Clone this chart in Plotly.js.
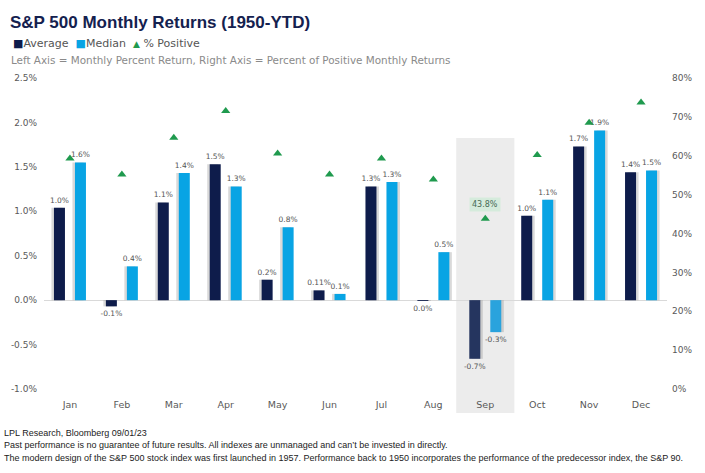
<!DOCTYPE html>
<html>
<head>
<meta charset="utf-8">
<script src="https://cdn.plot.ly/plotly-3.0.1.min.js"></script>
<style>
html,body{margin:0;padding:0;background:#fff;}
#chart{width:705px;height:473px;}
</style>
</head>
<body>
<div id="chart"></div>
<script>
// ---- Data ----
const months = ["Jan","Feb","Mar","Apr","May","Jun","Jul","Aug","Sep","Oct","Nov","Dec"];
const averageReturn = [1.04, -0.07, 1.10, 1.53, 0.23, 0.11, 1.28, -0.01, -0.66, 0.95, 1.73, 1.44];
const averageLabels = ["1.0%","-0.1%","1.1%","1.5%","0.2%","0.11%","1.3%","0.0%","-0.7%","1.0%","1.7%","1.4%"];
const medianReturn = [1.55, 0.38, 1.43, 1.28, 0.82, 0.07, 1.33, 0.54, -0.36, 1.13, 1.91, 1.46];
const medianLabels = ["1.6%","0.4%","1.4%","1.3%","0.8%","0.1%","1.3%","0.5%","-0.3%","1.1%","1.9%","1.5%"];
const pctPositive = [59.3, 55.2, 64.6, 71.5, 60.6, 55.2, 59.3, 53.9, 43.8, 60.2, 68.5, 73.7];
const highlightMonth = "Sep";
const highlightLabel = "43.8%";

const leftTicks = [-1.0, -0.5, 0.0, 0.5, 1.0, 1.5, 2.0, 2.5];
const rightTicks = [0, 10, 20, 30, 40, 50, 60, 70, 80];

const titleText = "S&P 500 Monthly Returns (1950-YTD)";
const subtitleText = "Left Axis = Monthly Percent Return, Right Axis = Percent of Positive Monthly Returns";
const footerLines = [
  "LPL Research, Bloomberg 09/01/23",
  "Past performance is no guarantee of future results. All indexes are unmanaged and can\u2019t be invested in directly.",
  "The modern design of the S&P 500 stock index was first launched in 1957. Performance back to 1950 incorporates the performance of the predecessor index, the S&P 90."
];

// ---- Styling / layout ----
const W = 705, H = 473;
const M = {l: 44, r: 38, t: 78, b: 84};
const PW = W - M.l - M.r, PH = H - M.t - M.b;
const catPx = PW / months.length;
const NAVY = "#0e1c4b", BLUE = "#08a4e4", GREEN = "#1f9a4e";
const NAVY_HL = "#25355f", BLUE_HL = "#2aa3dd";
const FONT = "DejaVu Sans, Verdana, sans-serif";
const hl = months.indexOf(highlightMonth);

const barW = 11 / catPx;
const avgOff = -16 / catPx;
const medOff = 5 / catPx;
const shadowShift = months.map((m, i) => (i < months.length / 2 ? -2.5 : 2.5) / catPx);

const px2x = px => (px - M.l) / PW;
const px2y = py => (H - M.b - py) / PH;

const labelFont = {family: FONT, size: 7.5, color: "#555555"};
const SHADOW = "rgba(120,120,120,0.28)";

const traces = [
  {type: "bar", x: months, y: averageReturn, width: barW,
   offset: shadowShift.map(s => avgOff + s),
   marker: {color: SHADOW}, hoverinfo: "skip", showlegend: false},
  {type: "bar", x: months, y: medianReturn, width: barW,
   offset: shadowShift.map(s => medOff + s),
   marker: {color: SHADOW}, hoverinfo: "skip", showlegend: false},
  {type: "bar", name: "Average", x: months, y: averageReturn, width: barW, offset: avgOff,
   marker: {color: months.map((m, i) => i === hl ? NAVY_HL : NAVY)},
   text: averageLabels, textposition: "outside", textfont: labelFont, outsidetextfont: labelFont,
   constraintext: "none", cliponaxis: false, showlegend: false},
  {type: "bar", name: "Median", x: months, y: medianReturn, width: barW, offset: medOff,
   marker: {color: months.map((m, i) => i === hl ? BLUE_HL : BLUE)},
   text: medianLabels, textposition: "outside", textfont: labelFont, outsidetextfont: labelFont,
   constraintext: "none", cliponaxis: false, showlegend: false},
  {type: "scatter", mode: "markers", name: "% Positive", x: months, y: pctPositive, yaxis: "y2",
   marker: {symbol: "triangle-up", size: 8, color: GREEN}, cliponaxis: false, showlegend: false}
];

const annotations = [
  {xref: "paper", yref: "paper", x: px2x(11), y: px2y(44), xanchor: "left", yanchor: "middle",
   showarrow: false, font: {family: FONT, size: 11, color: "#555555"},
   text: '<span style="color:' + NAVY + '">\u25A0</span>Average  <span style="color:' + BLUE +
         '">\u25A0</span>Median  <span style="color:' + GREEN + ';font-size:9px">\u25B2</span> % Positive'},
  {xref: "paper", yref: "paper", x: px2x(9), y: px2y(60), xanchor: "left", yanchor: "middle",
   showarrow: false, font: {family: FONT, size: 10.4, color: "#8a8a8a"}, text: subtitleText},
  {xref: "x", yref: "y2", x: highlightMonth, y: pctPositive[hl], yshift: 14, showarrow: false,
   text: highlightLabel, bgcolor: "#d5ebdc", borderpad: 2,
   font: {family: FONT, size: 8, color: "#476a55"}}
];
footerLines.forEach((t, i) => {
  annotations.push({xref: "paper", yref: "paper", x: px2x(2), y: px2y(433 + i * 12.4),
    xanchor: "left", yanchor: "middle", showarrow: false, text: t,
    font: {family: "Liberation Sans, Arial, sans-serif", size: 9, color: "#222222"}});
});

const layout = {
  width: W, height: H,
  margin: M,
  paper_bgcolor: "#ffffff", plot_bgcolor: "rgba(0,0,0,0)",
  barmode: "overlay",
  showlegend: false,
  title: {text: "<b>" + titleText.replace("&", "&amp;") + "</b>", xref: "container", yref: "container",
          x: 10 / W, xanchor: "left", y: 1 - 22 / H, yanchor: "middle",
          font: {family: "Liberation Sans, Arial, sans-serif", size: 17, color: "#14214f"}},
  xaxis: {type: "category", range: [-0.5, months.length - 0.5], showgrid: false, zeroline: false,
          showline: false, ticks: "", tickfont: {family: FONT, size: 9.5, color: "#595959"},
          ticklabelstandoff: 8, fixedrange: true},
  yaxis: {range: [leftTicks[0], leftTicks[leftTicks.length - 1]], tickvals: leftTicks,
          ticktext: leftTicks.map(v => v.toFixed(1) + "%"), showgrid: false,
          zeroline: true, zerolinecolor: "#d9d9d9", zerolinewidth: 1, showline: false, ticks: "",
          tickfont: {family: FONT, size: 9, color: "#595959"}, ticklabelstandoff: 6, fixedrange: true},
  yaxis2: {overlaying: "y", side: "right", range: [rightTicks[0], rightTicks[rightTicks.length - 1]],
           tickvals: rightTicks, ticktext: rightTicks.map(v => v + "%"), showgrid: false,
           zeroline: false, showline: false, ticks: "",
           tickfont: {family: FONT, size: 9, color: "#595959"}, ticklabelstandoff: 4, fixedrange: true},
  shapes: [
    {type: "rect", layer: "below", xref: "x", yref: "paper",
     x0: hl - 0.56, x1: hl + 0.56, y0: px2y(413), y1: px2y(138),
     fillcolor: "#ececec", line: {width: 0}}
  ],
  annotations: annotations
};

Plotly.newPlot("chart", traces, layout, {displayModeBar: false, staticPlot: true});
</script>
</body>
</html>
